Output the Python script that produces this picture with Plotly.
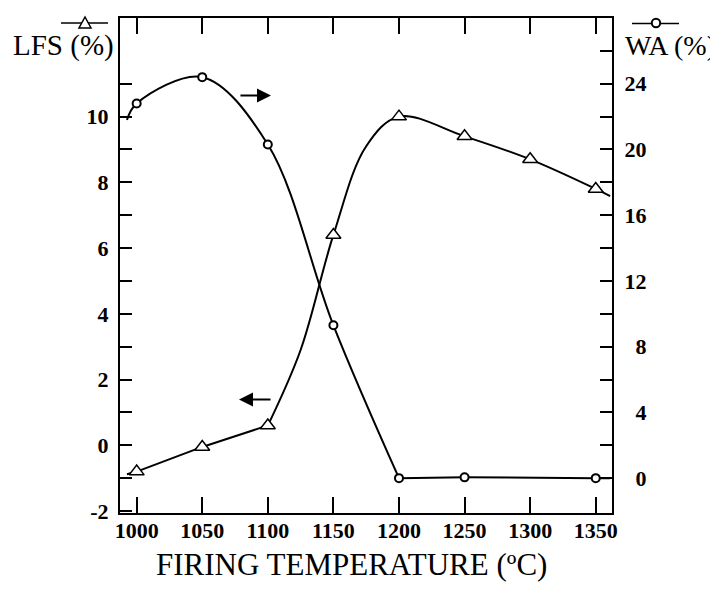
import plotly.graph_objects as go

# ---------------- data ----------------
temps_lfs = [1000, 1050, 1100, 1150, 1200, 1250, 1300, 1350]
lfs = [-0.8, -0.05, 0.6, 6.4, 10.0, 9.4, 8.7, 7.8]

temps_wa = [1000, 1050, 1100, 1150, 1200, 1250, 1350]
wa = [22.8, 24.4, 20.3, 9.3, 0.0, 0.05, 0.0]

# where the drawn curves start / end beyond the measured points
curve_x_ends = [992.6, 1361.0]
lfs_curve_ends = [-0.88, 7.58]
wa_curve_ends = [21.8, 0.0]
# extra points (its steep S-shaped rise)
lfs_curve_mid_x = [1125, 1175]
lfs_curve_mid_y = [2.9, 9.1]

x_ticks = [1000, 1050, 1100, 1150, 1200, 1250, 1300, 1350]
lfs_ticks = list(range(-2, 12))
lfs_labels = [str(v) if v % 2 == 0 else "" for v in lfs_ticks]
wa_ticks = list(range(0, 28, 2))
wa_labels = [(("\u00a0\u00a0" if v < 10 else "") + str(v)) if v % 4 == 0 else ""
             for v in wa_ticks]

# ---------------- figure ----------------
FONT = "Liberation Serif"
OFF = 8                      # page body margin of the browser
W, H = 718 - OFF, 589 - OFF
L, R, T, B = 120 - OFF, 106, 16 - OFF, 76
PW, PH = W - L - R, H - T - B


def px_x(p):   # screen pixel -> paper
    return (p - OFF - L) / PW


def px_y(p):
    return (H + OFF - B - p) / PH


fig = go.Figure()

line_style = dict(color="black", width=2)

# LFS curve: straight part up to 1100, smooth S-shaped part afterwards
x_lfs_a = [curve_x_ends[0]] + temps_lfs[:3]
y_lfs_a = [lfs_curve_ends[0]] + lfs[:3]
pts = sorted(zip(temps_lfs[2:] + lfs_curve_mid_x + [curve_x_ends[1]],
                 lfs[2:] + lfs_curve_mid_y + [lfs_curve_ends[1]]))
x_lfs_b = [p[0] for p in pts]
y_lfs_b = [p[1] for p in pts]

fig.add_trace(go.Scatter(x=x_lfs_a, y=y_lfs_a, mode="lines", line=line_style,
                         hoverinfo="skip"))
fig.add_trace(go.Scatter(x=x_lfs_b, y=y_lfs_b, mode="lines",
                         line=dict(color="black", width=2, shape="spline", smoothing=1.0),
                         hoverinfo="skip"))

# WA curve: smooth part up to 1200, flat part afterwards
fig.add_trace(go.Scatter(
    x=[curve_x_ends[0]] + temps_wa[:5], y=[wa_curve_ends[0]] + wa[:5],
    mode="lines", line=dict(color="black", width=2, shape="spline", smoothing=1.0),
    yaxis="y2", hoverinfo="skip"))
fig.add_trace(go.Scatter(
    x=temps_wa[4:] + [curve_x_ends[1]], y=wa[4:] + [wa_curve_ends[1]],
    mode="lines", line=line_style, yaxis="y2", hoverinfo="skip"))

# markers
fig.add_trace(go.Scatter(
    x=temps_lfs, y=lfs, mode="markers", name="LFS (%)",
    marker=dict(symbol="triangle-up", size=13, color="white",
                line=dict(color="black", width=1.5))))
fig.add_trace(go.Scatter(
    x=temps_wa, y=wa, mode="markers", name="WA (%)", yaxis="y2",
    marker=dict(symbol="circle", size=8, color="white",
                line=dict(color="black", width=2))))

axis_common = dict(
    showline=True, linecolor="black", linewidth=2, showgrid=False, zeroline=False,
    ticks="inside", tickcolor="black", tickwidth=1.5,
    tickfont=dict(family=FONT, size=22, color="black", weight="bold"),
)

fig.update_layout(
    width=W, height=H,
    margin=dict(l=L, r=R, t=T, b=B, pad=0),
    plot_bgcolor="white", paper_bgcolor="white",
    showlegend=False,
    xaxis=dict(range=[987.3, 1362.4], tickmode="array", tickvals=x_ticks,
               ticktext=[str(v) for v in x_ticks], ticklen=16, mirror="ticks",
               ticklabelstandoff=-3, **axis_common),
    yaxis=dict(range=[-2.06, 13.0], tickmode="array", tickvals=lfs_ticks,
               ticktext=lfs_labels, ticklen=12, mirror=True,
               ticklabelstandoff=5, **axis_common),
    yaxis2=dict(range=[-2.12, 28.0], overlaying="y", side="right", tickmode="array",
                tickvals=wa_ticks, ticktext=wa_labels, ticklen=12,
                ticklabelstandoff=6, **axis_common),
)

# direction arrows
fig.add_annotation(x=1102.4, y=10.64, ax=1078, ay=10.64, xref="x", yref="y",
                   axref="x", ayref="y", text="", showarrow=True, arrowhead=2,
                   arrowsize=1.4, arrowwidth=2, arrowcolor="black", standoff=0)
fig.add_annotation(x=1078, y=1.39, ax=1103.2, ay=1.39, xref="x", yref="y",
                   axref="x", ayref="y", text="", showarrow=True, arrowhead=2,
                   arrowsize=1.4, arrowwidth=2, arrowcolor="black", standoff=0)

# axis headings with their symbol keys
fig.add_annotation(x=px_x(63.5), y=px_y(44), xref="paper", yref="paper",
                   text="LFS (%)", showarrow=False, xanchor="center", yanchor="middle",
                   font=dict(family=FONT, size=29, color="black"))
fig.add_annotation(x=px_x(670), y=px_y(44), xref="paper", yref="paper",
                   text="WA (%)", showarrow=False, xanchor="center", yanchor="middle",
                   font=dict(family=FONT, size=28, color="black"))
fig.add_annotation(x=px_x(351), y=px_y(565), xref="paper", yref="paper",
                   text="FIRING TEMPERATURE (ºC)", showarrow=False,
                   xanchor="center", yanchor="middle",
                   font=dict(family=FONT, size=31, color="black"))

fig.add_shape(type="line", xref="paper", yref="paper",
              x0=px_x(61), x1=px_x(108), y0=px_y(21), y1=px_y(21),
              line=dict(color="black", width=1.5))
fig.add_shape(type="path", xref="paper", yref="paper",
              path=f"M {px_x(79)},{px_y(26)} L {px_x(91)},{px_y(26)} L {px_x(85)},{px_y(15)} Z",
              fillcolor="white", line=dict(color="black", width=1.5))
fig.add_shape(type="line", xref="paper", yref="paper",
              x0=px_x(632), x1=px_x(679), y0=px_y(21.5), y1=px_y(21.5),
              line=dict(color="black", width=1.5))
fig.add_shape(type="circle", xref="paper", yref="paper",
              x0=px_x(651.8), x1=px_x(660.2), y0=px_y(25.2), y1=px_y(16.8),
              fillcolor="white", line=dict(color="black", width=2))

fig.write_html("out.html")
